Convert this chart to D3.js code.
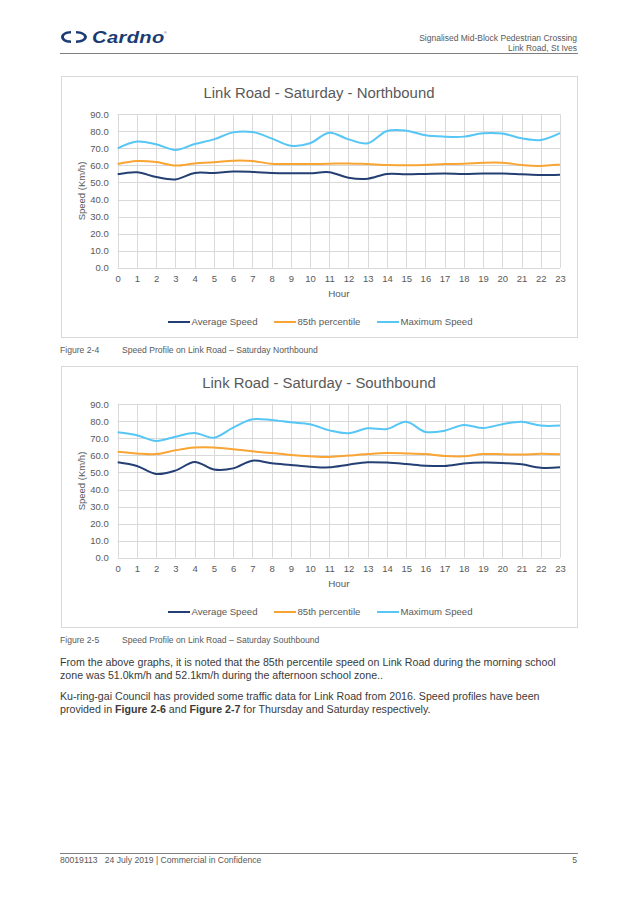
<!DOCTYPE html>
<html>
<head>
<meta charset="utf-8">
<script src="https://cdn.jsdelivr.net/npm/d3@7"></script>
<style>
  html, body { margin: 0; padding: 0; background: #fff; }
  svg { display: block; }
  text { font-family: "Liberation Sans", Arial, sans-serif; }
</style>
</head>
<body>
<svg id="page" width="638" height="900"></svg>
<script>
// ---------- data ----------
const hours = d3.range(0, 24);
const yTicks = [0, 10, 20, 30, 40, 50, 60, 70, 80, 90];
const seriesNames = ["Average Speed", "85th percentile", "Maximum Speed"];
const seriesColors = ["#233f73", "#f9a433", "#55c6f5"];

const nbAvg = [54.8, 56.0, 53.2, 51.8, 55.6, 55.6, 56.4, 56.2, 55.6, 55.4, 55.4, 56.0,
               52.8, 52.2, 55.0, 54.8, 55.0, 55.2, 55.0, 55.2, 55.2, 54.8, 54.4, 54.6];
const nb85  = [60.8, 62.6, 62.0, 59.9, 61.2, 61.8, 62.8, 62.6, 61.0, 60.8, 60.8, 61.0,
               61.2, 60.8, 60.3, 60.1, 60.3, 60.8, 61.0, 61.6, 61.6, 60.3, 59.7, 60.5];
const nbMax = [70.0, 74.0, 72.4, 69.1, 72.6, 75.3, 79.4, 79.6, 75.9, 71.6, 73.0, 79.2,
               75.3, 73.0, 80.2, 80.4, 77.7, 76.9, 76.9, 78.9, 78.7, 75.9, 74.9, 78.9];

const sbAvg = [56.0, 53.8, 49.1, 51.1, 56.2, 51.8, 52.4, 56.9, 55.4, 54.4, 53.4, 53.0,
               54.6, 56.0, 55.8, 55.0, 54.0, 53.8, 55.2, 55.8, 55.6, 54.8, 52.8, 53.0];
const sb85  = [62.2, 61.2, 60.8, 63.0, 64.6, 64.6, 63.6, 62.4, 61.4, 60.3, 59.5, 59.1,
               59.9, 60.8, 61.4, 61.2, 60.8, 59.7, 59.5, 60.8, 60.7, 60.5, 61.0, 60.7];
const sbMax = [73.6, 71.8, 68.5, 71.0, 73.2, 70.4, 76.3, 81.2, 80.8, 79.4, 78.3, 74.7,
               73.0, 75.9, 75.5, 79.8, 73.8, 74.5, 77.9, 76.1, 78.3, 79.8, 77.5, 77.5];

const charts = [
  { title: "Link Road - Saturday - Northbound", top: 76, series: [nbAvg, nb85, nbMax],
    figNo: "Figure 2-4", figText: "Speed Profile on Link Road \u2013 Saturday Northbound" },
  { title: "Link Road - Saturday - Southbound", top: 366, series: [sbAvg, sb85, sbMax],
    figNo: "Figure 2-5", figText: "Speed Profile on Link Road \u2013 Saturday Southbound" }
];

// ---------- page ----------
const svg = d3.select("#page");
const gray = "#595959";

// header
const logo = svg.append("g").attr("transform", "translate(61,37)");
logo.append("path")
  .attr("d", "M10,-6 C4,-6 0,-3 0,0 C0,3 4,6 10,6 L10,3.4 C5.5,3.4 3,2 3,0 C3,-2 5.5,-3.4 10,-3.4 Z")
  .attr("fill", "#1b3c73");
logo.append("path")
  .attr("d", "M15,-6 C21,-6 26,-3 26,0 C26,3 21,6 15,6 L15,3.4 C19.5,3.4 23,2 23,0 C23,-2 19.5,-3.4 15,-3.4 Z")
  .attr("fill", "#1b3c73");
logo.append("text").attr("transform", "translate(31,5.8) scale(1.22,1)")
  .attr("font-size", 16.5).attr("font-weight", "bold").attr("font-style", "italic")
  .attr("letter-spacing", 0.3)
  .attr("fill", "#1b3c73").text("Cardno");
logo.append("text").attr("x", 103).attr("y", -3).attr("font-size", 3.5).attr("fill", "#1b3c73").text("\u00ae");

svg.append("text").attr("x", 577).attr("y", 41).attr("text-anchor", "end")
  .attr("font-size", 8.5).attr("fill", gray).text("Signalised Mid-Block Pedestrian Crossing");
svg.append("text").attr("x", 577).attr("y", 51).attr("text-anchor", "end")
  .attr("font-size", 8.5).attr("fill", gray).text("Link Road, St Ives");
svg.append("line").attr("x1", 60).attr("x2", 578).attr("y1", 53.5).attr("y2", 53.5)
  .attr("stroke", "#7f7f7f").attr("stroke-width", 1);

// ---------- charts ----------
charts.forEach(c => {
  const g = svg.append("g").attr("transform", `translate(0,${c.top})`);
  // frame
  g.append("rect").attr("x", 61.5).attr("y", 0.5).attr("width", 516).attr("height", 261)
    .attr("fill", "#fff").attr("stroke", "#d9d9d9").attr("stroke-width", 1);

  const x = d3.scaleLinear().domain([0, 23]).range([117.7, 560]);
  const y = d3.scaleLinear().domain([0, 90]).range([191.7, 38.3]);

  // gridlines
  g.append("g").selectAll("line").data(yTicks).join("line")
    .attr("x1", x(0)).attr("x2", x(23))
    .attr("y1", d => Math.round(y(d)) + 0.5).attr("y2", d => Math.round(y(d)) + 0.5)
    .attr("stroke", "#d9d9d9");
  g.append("g").selectAll("line").data(hours).join("line")
    .attr("x1", d => Math.round(x(d)) + 0.5).attr("x2", d => Math.round(x(d)) + 0.5)
    .attr("y1", y(90)).attr("y2", y(0))
    .attr("stroke", "#d9d9d9");

  // axes labels
  const yAxis = d3.axisLeft(y).tickValues(yTicks).tickFormat(d3.format(".1f")).tickSize(0).tickPadding(9);
  const ya = g.append("g").attr("transform", `translate(${x(0)},0)`).call(yAxis);
  ya.select(".domain").remove();
  ya.selectAll("text").attr("font-size", 9.5).attr("fill", gray)
    .attr("font-family", "'Liberation Sans', Arial, sans-serif");

  const xAxis = d3.axisBottom(x).tickValues(hours).tickFormat(d3.format("d")).tickSize(0).tickPadding(8);
  const xa = g.append("g").attr("transform", `translate(0,${y(0)})`).call(xAxis);
  xa.select(".domain").remove();
  xa.selectAll("text").attr("font-size", 9.5).attr("fill", gray)
    .attr("font-family", "'Liberation Sans', Arial, sans-serif");

  // titles
  g.append("text").attr("x", 319).attr("y", 22).attr("text-anchor", "middle")
    .attr("font-size", 14.9).attr("fill", gray).text(c.title);
  g.append("text").attr("transform", `translate(85,${(y(0) + y(90)) / 2}) rotate(-90)`)
    .attr("text-anchor", "middle").attr("font-size", 9.5).attr("fill", gray).text("Speed (Km/h)");
  g.append("text").attr("x", (x(0) + x(23)) / 2).attr("y", 221).attr("text-anchor", "middle")
    .attr("font-size", 9.8).attr("fill", gray).text("Hour");

  // lines
  const line = d3.line().x((d, i) => x(hours[i])).y(d => y(d)).curve(d3.curveCatmullRom.alpha(0.5));
  g.append("g").selectAll("path").data(c.series).join("path")
    .attr("d", d => line(d))
    .attr("fill", "none")
    .attr("stroke", (d, i) => seriesColors[i])
    .attr("stroke-width", 2)
    .attr("stroke-linejoin", "round");

  // legend
  const legX = [168, 274, 377];
  const lg = g.append("g").selectAll("g").data(seriesNames).join("g")
    .attr("transform", (d, i) => `translate(${legX[i]},246)`);
  lg.append("line").attr("x1", 0).attr("x2", 22).attr("y1", 0).attr("y2", 0)
    .attr("stroke", (d, i) => seriesColors[i]).attr("stroke-width", 2);
  lg.append("text").attr("x", 23.5).attr("y", 3.4).attr("font-size", 9.6).attr("fill", gray).text(d => d);

  // caption
  g.append("text").attr("x", 60).attr("y", 277).attr("font-size", 8.6).attr("fill", gray).text(c.figNo);
  g.append("text").attr("x", 122).attr("y", 277).attr("font-size", 8.6).attr("fill", gray).text(c.figText);
});

// ---------- body text ----------
const body = svg.append("g").attr("font-size", 10.65).attr("fill", "#3a3a3a");
body.append("text").attr("x", 60).attr("y", 666)
  .text("From the above graphs, it is noted that the 85th percentile speed on Link Road during the morning school");
body.append("text").attr("x", 60).attr("y", 679)
  .text("zone was 51.0km/h and 52.1km/h during the afternoon school zone..");
const p2 = body.append("text").attr("x", 60).attr("y", 700);
p2.text("Ku-ring-gai Council has provided some traffic data for Link Road from 2016. Speed profiles have been");
const p3 = body.append("text").attr("x", 60).attr("y", 713);
p3.append("tspan").text("provided in ");
p3.append("tspan").attr("font-weight", "bold").text("Figure 2-6");
p3.append("tspan").text(" and ");
p3.append("tspan").attr("font-weight", "bold").text("Figure 2-7");
p3.append("tspan").text(" for Thursday and Saturday respectively.");

// ---------- footer ----------
svg.append("line").attr("x1", 60).attr("x2", 578).attr("y1", 853.5).attr("y2", 853.5)
  .attr("stroke", "#7f7f7f").attr("stroke-width", 1);
svg.append("text").attr("x", 60).attr("y", 863).attr("font-size", 8.6).attr("fill", gray)
  .attr("xml:space", "preserve").text("80019113   24 July 2019 | Commercial in Confidence");
svg.append("text").attr("x", 577).attr("y", 863).attr("text-anchor", "end").attr("font-size", 8.6)
  .attr("fill", gray).text("5");
</script>
</body>
</html>
